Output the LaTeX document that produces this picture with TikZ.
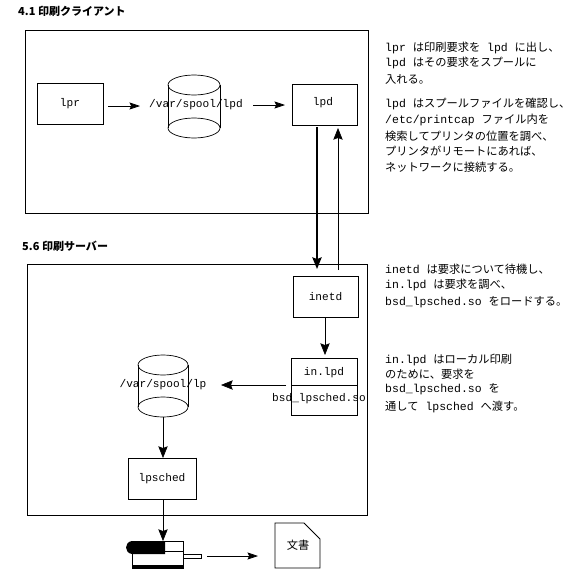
\documentclass[tikz,border=0pt]{standalone}
\usepackage{fontspec}
\usepackage{tikz}
\usetikzlibrary{arrows.meta}
\setmainfont{Liberation Mono}
\newfontfamily\cjk{Noto Sans CJK JP}
\newcommand{\ja}[1]{{\cjk\fontsize{9.6}{9.6}\selectfont #1}}
\tikzset{
  outer/.style={draw,line width=0.85pt},
  box/.style={draw,line width=0.7pt,inner sep=0pt,minimum width=1.95cm,minimum height=1.23cm,font=\fontsize{9.5}{9.5}\selectfont},
  lbl/.style={inner sep=0pt,font=\fontsize{9.5}{9.5}\selectfont},
  note/.style={anchor=west,inner sep=0pt,font=\fontsize{9.8}{9.8}\selectfont},
  head/.style={anchor=west,inner sep=0pt,font=\cjk\bfseries\fontsize{9.4}{9.4}\selectfont},
  flow/.style={-{Stealth[length=9pt,width=6pt,inset=1.5pt]},line width=0.6pt},
  heavy/.style={-{Stealth[length=10pt,width=8pt,inset=1.5pt]},line width=0.6pt},
}
\begin{document}
\begin{tikzpicture}[x=0.03cm,y=-0.03cm]
        \useasboundingbox (0,0) rectangle (583,583);

        % titulos
        \node[head] (headclient) at (18,11) {4.1 印刷クライアント};
        \node[head] (headserver) at (22,246) {5.6 印刷サーバー};

        % caixas externas
        \draw[outer] (25,30) rectangle (368,213);
        \draw[outer] (27,264) rectangle (367,515);

        % cilindros
        \foreach \x/\r/\t/\b in {194/26/85/128, 163/25/365/407} {
        \draw[line width=0.6pt] (\x,\t) ellipse ({\r} and 10);
        \draw[line width=0.6pt] (\x,\b) ellipse ({\r} and 10);
        \draw[line width=0.6pt] (\x-\r,\t) -- (\x-\r,\b);
        \draw[line width=0.6pt] (\x+\r,\t) -- (\x+\r,\b);
        }

        % nos do cliente
        \node[box,minimum width=1.98cm] (lpr) at (70,103.5) {lpr};
        \node[lbl] (spoollpd) at (196,105) {/var/spool/lpd};
        \node[box] (lpd) at (325,104.5) {};
        \node[lbl] (lpdname) at (323,103) {lpd};

        % nos do servidor
        \node[box] (inetd) at (325.5,296.5) {inetd};
        \node[box,minimum width=1.98cm,minimum height=1.71cm] (inlpdbox) at (324,386.5) {};
        \draw[line width=0.7pt] (291,385) -- (357,385);
        \node[lbl] (inlpd) at (324,373) {in.lpd};
        \node[lbl] (bsdso) at (319,399) {bsd\_lpsched.so};
        \node[lbl] (spoollp) at (163,385) {/var/spool/lp};
        \node[box,minimum width=2.04cm] (lpsched) at (162,478.5) {lpsched};
        \draw[line width=1.2pt] (lpsched.north east) -- (lpsched.south east) -- (lpsched.south west);

        % impressora
        \draw[line width=0.7pt] (132,541) rectangle (183,568);
        \draw[line width=0.7pt] (165,551) -- (183,551);
        \fill[black] (132,541) -- (165,541) -- (165,554) -- (132,554) .. controls (124,553) and (124,542) .. (132,541);
        \fill[black] (132,565) rectangle (183,568);
        \draw[line width=0.6pt] (183,554) rectangle (201,558);
        \coordinate (printertop) at (163,541);
        \coordinate (printerout) at (207,556);

        % documento
        \draw[line width=0.7pt] (275,523) -- (304,523) -- (320,539) -- (320,568) -- (275,568) -- cycle;
        \node[lbl,font=\cjk\fontsize{9.6}{9.6}\selectfont] (doc) at (298,545) {文書};
        \coordinate (docin) at (258,556);

        % pontas soltas
        \coordinate (lprout) at (108,106);
        \coordinate (spoolin) at (140,106);
        \coordinate (spoolout) at (253,105);
        \coordinate (lpdin) at (285,105);
        \coordinate (lpdout) at (317,127);
        \coordinate (inetdin) at (317,269);
        \coordinate (inetdout) at (338,270);
        \coordinate (lpdback) at (338,128);
        \coordinate (inlpdin) at (325,355);
        \coordinate (lpout) at (286,385);
        \coordinate (lpin) at (221,385);
        \coordinate (spoollptop) at (163,417);
        \coordinate (lpschedin) at (163,458);
        \coordinate (lpschedout) at (163,499);

        % setas
        \draw[flow] (lprout) -- (spoolin);
        \draw[flow] (spoolout) -- (lpdin);
        \draw[heavy,line width=1.3pt] (lpdout) -- (inetdin);
        \draw[heavy] (inetdout) -- (lpdback);
        \draw[heavy] (inetd.south -| inlpdin) -- (inlpdin);
        \draw[heavy] (lpout) -- (lpin);
        \draw[heavy] (spoollptop) -- (lpschedin);
        \draw[heavy] (lpschedout) -- (printertop);
        \draw[flow] (printerout) -- (docin);

        % notas
        \foreach \y/\txt [count=\i] in {
        48/{lpr \ja{は印刷要求を} lpd \ja{に出し、}},
        63/{lpd \ja{はその要求をスプールに}},
        79/{\ja{入れる。}},
        104/{lpd \ja{はスプールファイルを確認し、}},
        120/{/etc/printcap \ja{ファイル内を}},
        136/{\ja{検索してプリンタの位置を調べ、}},
        151/{\ja{プリンタがリモートにあれば、}},
        167/{\ja{ネットワークに接続する。}},
        269/{inetd \ja{は要求について待機し、}},
        285/{in.lpd \ja{は要求を調べ、}},
        302/{bsd\_lpsched.so \ja{をロードする。}},
        360/{in.lpd \ja{はローカル印刷}},
        374/{\ja{のために、要求を}},
        389/{bsd\_lpsched.so \ja{を}},
        407/{\ja{通して} lpsched \ja{へ渡す。}}}
        \node[note] (note\i) at (385,\y) {\txt};
    \end{tikzpicture}
\end{document}
